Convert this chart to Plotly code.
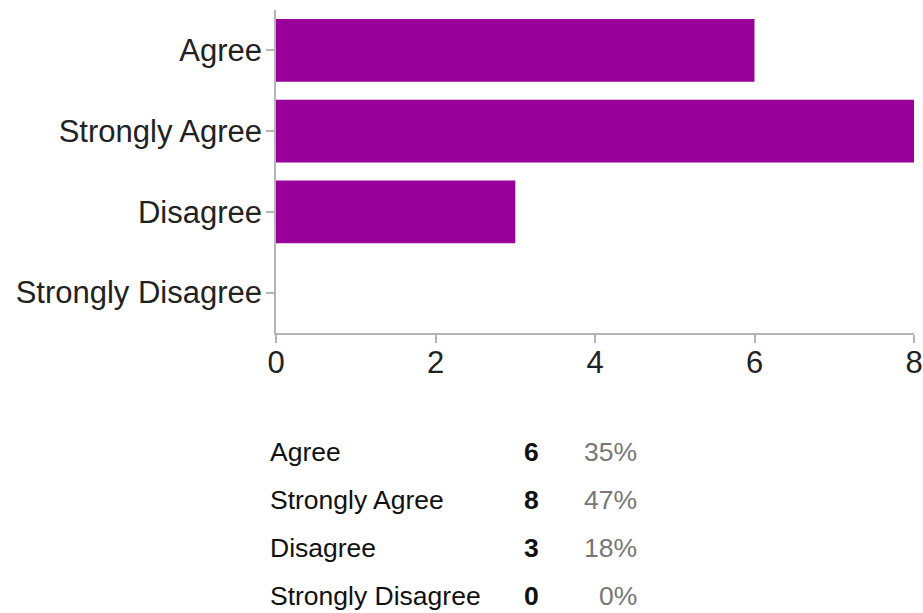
import plotly.graph_objects as go

# Survey responses
categories = ["Agree", "Strongly Agree", "Disagree", "Strongly Disagree"]
counts = [6, 8, 3, 0]
x_ticks = [0, 2, 4, 6, 8]

total = sum(counts)
percents = [f"{round(100 * c / total)}%" for c in counts]

BAR_COLOR = "#990099"
AXIS_COLOR = "#b5b5b5"
FONT = "Liberation Sans"

W, H = 923, 613
M_L, M_R, M_T, M_B = 276, 9, 10, 280
plot_w = W - M_L - M_R
plot_h = H - M_T - M_B

fig = go.Figure(
    go.Bar(
        x=counts,
        y=categories,
        orientation="h",
        marker=dict(color=BAR_COLOR, line=dict(width=0)),
        width=0.78,
        hoverinfo="x+y",
    )
)

axis_common = dict(
    showgrid=False,
    zeroline=False,
    showline=True,
    linecolor=AXIS_COLOR,
    linewidth=1.5,
    ticks="outside",
    ticklen=8,
    tickcolor=AXIS_COLOR,
    tickwidth=1.5,
    tickfont=dict(size=31, color="#222222", family=FONT),
    fixedrange=True,
    automargin=False,
)

fig.update_layout(
    width=W,
    height=H,
    margin=dict(l=M_L, r=M_R, t=M_T, b=M_B),
    paper_bgcolor="white",
    plot_bgcolor="white",
    showlegend=False,
    font=dict(family=FONT, color="#222222"),
    xaxis=dict(range=[0, 8], tickvals=x_ticks, ticklabelstandoff=-7, **axis_common),
    yaxis=dict(
        categoryorder="array",
        categoryarray=categories,
        autorange="reversed",
        ticklabelstandoff=-2,
        **axis_common,
    ),
)

# Summary table beneath the chart: label, bold count, grey percentage
row_y0 = 452
row_step = 48


def px_to_paper_x(px):
    return (px - M_L) / plot_w


def px_to_paper_y(py):
    return (H - M_B - py) / plot_h


for i, (cat, cnt, pct) in enumerate(zip(categories, counts, percents)):
    yy = px_to_paper_y(row_y0 + i * row_step)
    fig.add_annotation(
        x=px_to_paper_x(268), y=yy, xref="paper", yref="paper",
        text=cat, showarrow=False, xanchor="left", yanchor="middle",
        font=dict(size=26.5, color="#111111", family=FONT),
    )
    fig.add_annotation(
        x=px_to_paper_x(541), y=yy, xref="paper", yref="paper",
        text=f"<b>{cnt}</b>", showarrow=False, xanchor="right", yanchor="middle",
        font=dict(size=26.5, color="#111111", family=FONT),
    )
    fig.add_annotation(
        x=px_to_paper_x(639), y=yy, xref="paper", yref="paper",
        text=pct, showarrow=False, xanchor="right", yanchor="middle",
        font=dict(size=26.5, color="#777777", family=FONT),
    )

fig.write_html("out.html", config={"displayModeBar": False})
